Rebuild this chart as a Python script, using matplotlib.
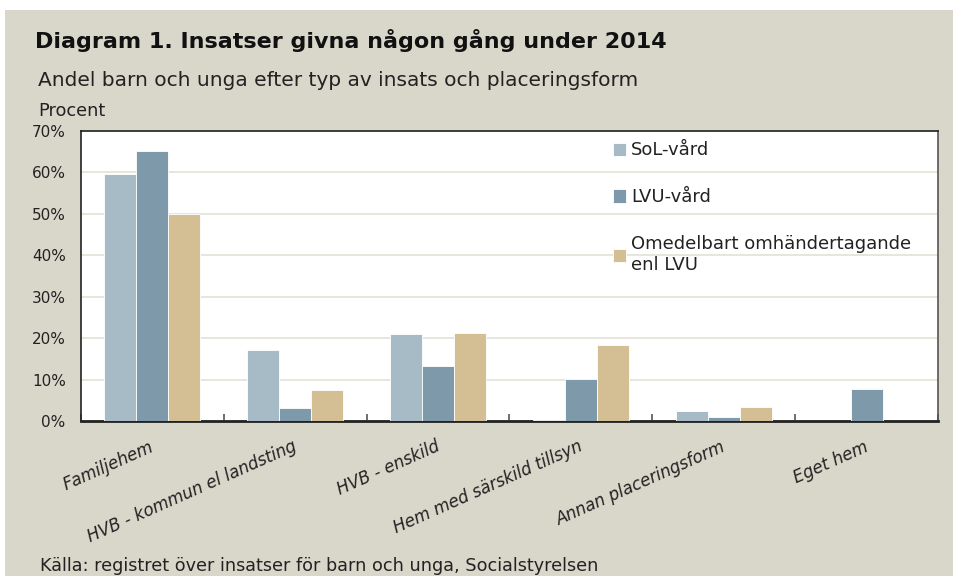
import numpy as np
import matplotlib.pyplot as plt
from matplotlib.patches import Rectangle

plt.rcParams["font.family"] = ["DejaVu Sans"]

categories = ["Familjehem", "HVB - kommun el landsting", "HVB - enskild",
              "Hem med särskild tillsyn", "Annan placeringsform", "Eget hem"]
series_names = ["SoL-vård", "LVU-vård", "Omedelbart omhändertagande\nenl LVU"]
sol = [59.6, 17.1, 21.0, 0.2, 2.4, 0.0]
lvu = [65.2, 3.1, 13.3, 10.1, 1.0, 7.7]
omed = [50.0, 7.5, 21.2, 18.3, 3.4, 0.0]
yticks = [0, 10, 20, 30, 40, 50, 60, 70]

colors = ["#A7BBC6", "#7D99AA", "#D4BF94"]
bg = "#D9D6CA"

W, H = 954, 576
fig = plt.figure(figsize=(W / 100, H / 100), dpi=100)
fig.patch.set_facecolor("white")
fig.patches.append(Rectangle((5 / W, -0.1), 1.2, 1.1 - 10 / H, transform=fig.transFigure,
                             facecolor=bg, edgecolor="none", zorder=-10))

ax = fig.add_axes([81 / W, 1 - 421 / H, (938 - 81) / W, (421 - 131) / H])
ax.set_facecolor("white")

x = np.arange(len(categories))
bw = 0.224
for i, (vals, name) in enumerate(zip([sol, lvu, omed], series_names)):
    ax.bar(x + (i - 1) * bw, vals, width=bw, color=colors[i], label=name,
           edgecolor="white", linewidth=0.6, zorder=3)

ax.set_xlim(-0.5, len(categories) - 0.5)
ax.set_ylim(0, 70)
ax.set_yticks(yticks)
ax.set_yticklabels([f"{v}%" for v in yticks], fontsize=11, color="#222222")
ax.yaxis.grid(True, color="#E3E0D6", linewidth=1.2, zorder=0)
ax.tick_params(axis="y", length=0, pad=11)

ax.set_xticks(np.arange(len(categories) + 1) - 0.5, minor=True)
ax.set_xticks(x)
ax.set_xticklabels([])
ax.tick_params(axis="x", which="major", length=0)
ax.tick_params(axis="x", which="minor", direction="in", length=5, width=1.2, color="#555555")

for i, c in enumerate(categories):
    ax.text(i - 0.02, -4.0, c, rotation=24, ha="right", va="top", rotation_mode="anchor",
            fontsize=12, style="italic", color="#222222")

for s in ["left", "top"]:
    ax.spines[s].set_color("#222222")
    ax.spines[s].set_linewidth(1.2)
ax.spines["right"].set_color("#555555")
ax.spines["right"].set_linewidth(1.2)
ax.spines["bottom"].set_color("#222222")
ax.spines["bottom"].set_linewidth(2)

leg = ax.legend(loc="upper left", bbox_to_anchor=(0.61, 0.995), frameon=False,
                fontsize=13, handlelength=0.75, handleheight=0.75, handletextpad=0.25,
                labelspacing=1.6, borderpad=0)
for t in leg.get_texts():
    t.set_color("#222222")

fig.text(35 / W, 1 - 40 / H, "Diagram 1. Insatser givna någon gång under 2014",
         fontsize=16, fontweight="bold", va="center", color="#111111")
fig.text(38 / W, 1 - 80 / H, "Andel barn och unga efter typ av insats och placeringsform",
         fontsize=14.5, va="center", color="#222222")
fig.text(38 / W, 1 - 111 / H, "Procent", fontsize=12.8, va="center", color="#222222")
fig.text(40 / W, 1 - 566 / H, "Källa: registret över insatser för barn och unga, Socialstyrelsen",
         fontsize=12.7, va="center", color="#222222")

fig.savefig("out.png", dpi=100, facecolor=fig.get_facecolor())
